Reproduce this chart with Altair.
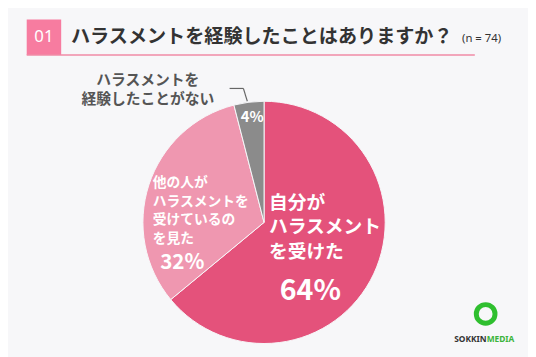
import altair as alt
import pandas as pd

# ---- data ----
categories = ["自分がハラスメントを受けた", "他の人がハラスメントを受けているのを見た", "ハラスメントを経験したことがない"]
values = [64, 32, 4]
colors = ["#e4527b", "#ef97b0", "#8b8b8b"]
label_self = ["自分が", "ハラスメント", "を受けた"]
label_other = ["他の人が", "ハラスメントを", "受けているの", "を見た"]
label_none = ["ハラスメントを", "経験したことがない"]
pct_labels = ["64%", "32%", "4%"]
title_no = "01"
title_text = "ハラスメントを経験したことはありますか？"
n_text = "(n = 74)"

JP = "Noto Sans CJK JP"
BG = "#f7f7f9"

pie_df = pd.DataFrame({"category": categories, "value": values, "order": list(range(len(values)))})

pie = alt.Chart(pie_df).mark_arc(radius=123, stroke=BG, strokeWidth=1).encode(
    theta=alt.Theta("value:Q", stack=True),
    color=alt.Color("category:N", scale=alt.Scale(domain=categories, range=colors), legend=None),
    order=alt.Order("order:Q"),
    x=alt.value(260),
    y=alt.value(215),
)

one = alt.Data(values=[{}])


def txt(text, x, y, size, color, weight="bold", align="left", font=JP):
    return alt.Chart(one).mark_text(
        text=text, align=align, baseline="middle", fontSize=size,
        fontWeight=weight, color=color, font=font,
    ).encode(x=alt.value(x), y=alt.value(y))


def block(lines, x, y0, step, size, color, **kw):
    return [txt(line, x, y0 + i * step, size, color, **kw) for i, line in enumerate(lines)]


def rule(x1, y1, x2, y2, color, w):
    return alt.Chart(one).mark_rule(color=color, strokeWidth=w).encode(
        x=alt.value(x1), y=alt.value(y1), x2=alt.value(x2), y2=alt.value(y2))


box = alt.Chart(one).mark_rect(color="#f77ca0").encode(
    x=alt.value(19), x2=alt.value(54), y=alt.value(9), y2=alt.value(45))

ring = alt.Chart(one).mark_point(shape="circle", filled=False, stroke="#2fbf2f",
                                 strokeWidth=5, size=361, opacity=1).encode(
    x=alt.value(485), y=alt.value(308))

layers = [
    pie,
    box,
    rule(19, 45, 474, 45, "#f08ba6", 1.5),
    txt(title_no, 36.5, 27, 17, "white", weight="normal", align="center", font="Noto Sans"),
    txt(title_text, 64, 27, 19.4, "#333333"),
    txt(n_text, 461, 29, 11.5, "#333333", weight="normal", font="Noto Sans"),
    *block(label_none, 142, 70, 20, 15, "#555555", align="center"),
    rule(225, 79, 239, 79, "#666666", 1.2),
    rule(239, 79, 243, 92, "#666666", 1.2),
    txt(pct_labels[2], 248, 108, 15, "white", align="center"),
    *block(label_other, 147, 175, 19, 14, "white"),
    txt(pct_labels[1], 177, 256, 21, "white", align="center"),
    *block(label_self, 265, 195, 25, 19, "white"),
    txt(pct_labels[0], 307, 285, 29, "white", align="center"),
    ring,
    txt("SOKKIN", 486, 333, 8.5, "#333333", align="right", font="Noto Sans"),
    txt("MEDIA", 486, 333, 8.5, "#3cb43c", align="left", font="Noto Sans"),
]

chart = alt.layer(*layers).properties(
    width=528, height=349,
    autosize=alt.AutoSizeParams(type="none"),
    padding=0,
    background=BG,
).configure_view(stroke=None)

chart.save("out.html", embed_options={"renderer": "svg", "actions": False})
